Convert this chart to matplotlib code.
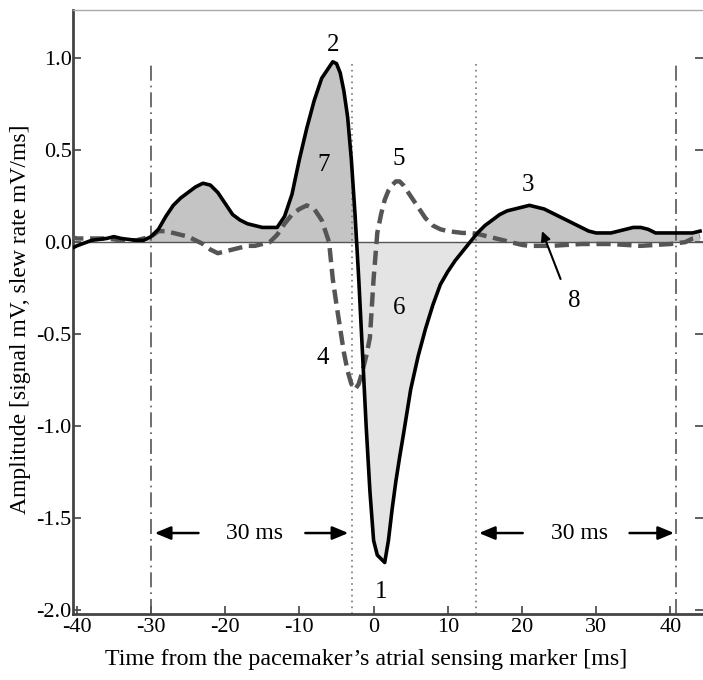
import numpy as np
import matplotlib.pyplot as plt

plt.rcParams['font.family'] = ['Liberation Serif', 'DejaVu Serif']
plt.rcParams['axes.unicode_minus'] = False

# signal (solid)
sig_t = [-41, -40, -38, -36, -35, -34, -32, -31, -30, -29, -28, -27, -26, -25, -24, -23,
         -22, -21, -20, -19, -18, -17, -16, -15, -14, -13, -12, -11, -10, -9, -8, -7, -6,
         -5.5, -5, -4.5, -4, -3.5, -3, -2.5, -2, -1.5, -1, -0.5, 0, 0.5, 1, 1.5, 2, 2.5,
         3, 3.5, 4, 5, 6, 7, 8, 9, 10, 11, 12, 13, 14, 15, 16, 17, 18, 19, 20, 21, 22,
         23, 24, 25, 26, 27, 28, 29, 30, 31, 32, 33, 34, 35, 36, 37, 38, 39, 40, 41, 42,
         43, 44]
sig_v = [-0.04, -0.02, 0.01, 0.02, 0.03, 0.02, 0.01, 0.01, 0.03, 0.07, 0.14, 0.20, 0.24,
         0.27, 0.30, 0.32, 0.31, 0.27, 0.21, 0.15, 0.12, 0.10, 0.09, 0.08, 0.08, 0.08,
         0.14, 0.26, 0.45, 0.62, 0.77, 0.89, 0.95, 0.98, 0.97, 0.92, 0.82, 0.68, 0.45,
         0.15, -0.2, -0.6, -1.0, -1.35, -1.62, -1.70, -1.72, -1.74, -1.62, -1.45, -1.30,
         -1.17, -1.05, -0.80, -0.62, -0.47, -0.34, -0.23, -0.16, -0.10, -0.05, 0.0, 0.05,
         0.09, 0.12, 0.15, 0.17, 0.18, 0.19, 0.20, 0.19, 0.18, 0.16, 0.14, 0.12, 0.10,
         0.08, 0.06, 0.05, 0.05, 0.05, 0.06, 0.07, 0.08, 0.08, 0.07, 0.05, 0.05, 0.05,
         0.05, 0.05, 0.05, 0.06]

# slew rate (dashed)
slew_t = [-41, -40, -38, -36, -34, -32, -30, -29, -28, -27, -26, -25, -24, -23, -22, -21,
          -20, -19, -18, -17, -16, -15, -14, -13, -12, -11, -10, -9, -8, -7, -6.5, -6,
          -5.5, -5, -4.5, -4, -3.5, -3, -2.5, -2, -1.5, -1, -0.5, 0, 0.5, 1, 1.5, 2, 2.5,
          3, 3.5, 4, 5, 6, 7, 8, 9, 10, 11, 12, 13, 14, 15, 16, 17, 18, 19, 20, 21, 22,
          24, 26, 28, 30, 32, 34, 36, 38, 40, 42, 43, 44]
slew_v = [0.03, 0.02, 0.02, 0.02, 0.01, 0.01, 0.03, 0.06, 0.06, 0.05, 0.04, 0.03, 0.01,
          -0.01, -0.04, -0.06, -0.05, -0.04, -0.03, -0.02, -0.02, -0.01, 0.0, 0.04, 0.10,
          0.15, 0.18, 0.20, 0.18, 0.12, 0.06, 0.0, -0.2, -0.34, -0.47, -0.6, -0.70, -0.77,
          -0.80, -0.77, -0.70, -0.62, -0.52, -0.2, 0.05, 0.15, 0.23, 0.28, 0.31, 0.33,
          0.33, 0.31, 0.25, 0.19, 0.13, 0.09, 0.07, 0.06, 0.055, 0.05, 0.05, 0.045, 0.035,
          0.025, 0.015, 0.005, -0.005, -0.015, -0.02, -0.02, -0.02, -0.015, -0.01, -0.01,
          -0.01, -0.015, -0.02, -0.015, -0.01, 0.0, 0.02, 0.03]

dashdot_x = [-30, 40.8]
dotted_x = [-2.9, 13.8]

peak_labels = ['1', '2', '3', '4', '5', '6', '7', '8']
peak_pos = [(1.0, -1.90), (-5.4, 1.07), (20.8, 0.31), (-6.8, -0.63),
            (3.4, 0.45), (3.4, -0.36), (-6.8, 0.42), (27.0, -0.32)]

st = np.array(sig_t)
sv = np.array(sig_v)

fig = plt.figure(figsize=(7.03, 6.8), dpi=100)
ax = fig.add_axes([0.104, 0.097, 0.896, 0.888])

ax.fill_between(st, sv, 0, where=(st >= -30) & (sv > 0), interpolate=True,
                color='#c4c4c4', lw=0, zorder=1)
ax.fill_between(st, sv, 0, where=(st > -4) & (st < 14) & (sv < 0), interpolate=True,
                color='#e4e4e4', lw=0, zorder=1)

ax.axhline(0, color='#555555', lw=1.0, zorder=2)
ax.vlines(dashdot_x, -2.02, 0.97, colors='#555555', linestyles=(0, (9, 3, 1, 3)),
          lw=1.2, zorder=2)
ax.vlines(dotted_x, -2.02, 0.97, colors='#777777', linestyles=(0, (1, 2.5)),
          lw=1.2, zorder=2)

ax.plot(slew_t, slew_v, color='#555555', lw=3.2, ls=(0, (3.2, 1.5)), zorder=3)
ax.plot(sig_t, sig_v, color='black', lw=2.6, zorder=4)

for lab, (px, py) in zip(peak_labels, peak_pos):
    ax.text(px, py, lab, fontsize=18, ha='center', va='center', zorder=5)

# arrow from label 8 into the shaded area
ax.annotate('', xy=(22.7, 0.06), xytext=(25.2, -0.2),
            arrowprops=dict(arrowstyle='-|>', color='black', lw=1.5,
                            mutation_scale=14, shrinkA=0, shrinkB=0))

# 30 ms spans
arr = dict(arrowstyle='-|>,head_length=0.6,head_width=0.25', color='black', lw=1.8,
           mutation_scale=16, shrinkA=0, shrinkB=0)
ax.annotate('', xy=(-29.5, -1.58), xytext=(-23.6, -1.58), arrowprops=arr)
ax.annotate('', xy=(-3.4, -1.58), xytext=(-9.2, -1.58), arrowprops=arr)
ax.text(-16.1, -1.58, '30 ms', fontsize=17, ha='center', va='center')
ax.annotate('', xy=(14.2, -1.58), xytext=(20.1, -1.58), arrowprops=arr)
ax.annotate('', xy=(40.5, -1.58), xytext=(34.5, -1.58), arrowprops=arr)
ax.text(27.7, -1.58, '30 ms', fontsize=17, ha='center', va='center')

ax.set_xlim(-40.5, 44.4)
ax.set_ylim(-2.02, 1.26)
ax.set_xticks(np.arange(-40, 41, 10))
ax.set_yticks([-2.0, -1.5, -1.0, -0.5, 0.0, 0.5, 1.0])
ax.set_yticklabels(['-2.0', '-1.5', '-1.0', '-0.5', '0.0', '0.5', '1.0'])
ax.tick_params(direction='in', length=6, width=1.2, labelsize=16, color='#444444',
               right=True, pad=3)
ax.tick_params(axis='y', pad=1)

for s in ['left', 'bottom']:
    ax.spines[s].set_color('#444444')
    ax.spines[s].set_linewidth(2)
ax.spines['top'].set_color('#aaaaaa')
ax.spines['top'].set_linewidth(1)
ax.spines['right'].set_visible(False)

ax.set_xlabel('Time from the pacemaker\u2019s atrial sensing marker [ms]', fontsize=17.3)
ax.set_ylabel('Amplitude [signal mV, slew rate mV/ms]', fontsize=17)
ax.xaxis.set_label_coords(0.465, -0.058)
ax.yaxis.set_label_coords(-0.067, 0.488)

fig.savefig('out.png', dpi=100)
